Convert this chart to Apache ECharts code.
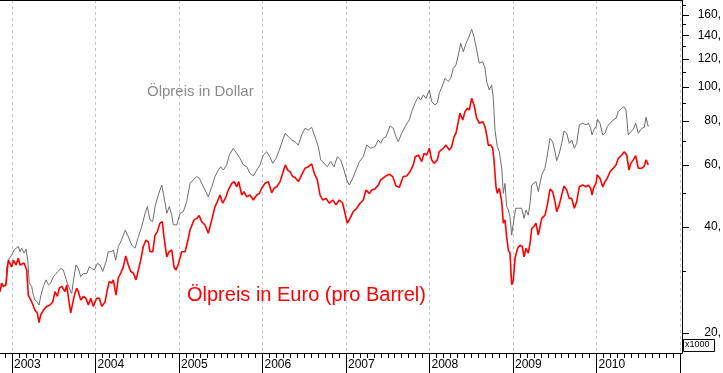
<!DOCTYPE html>
<html><head><meta charset="utf-8">
<script src="https://cdn.jsdelivr.net/npm/echarts@6/dist/echarts.min.js"></script>
<style>html,body{margin:0;padding:0;background:#fff}#c{width:723px;height:373px}</style>
</head><body><div id="c"></div>
<script>
// ---- data (decimal year, price per barrel) ----
const yearTicks = [2003, 2004, 2005, 2006, 2007, 2008, 2009, 2010, 2011];
const yearLabels = [2003, 2004, 2005, 2006, 2007, 2008, 2009, 2010];
const priceTicks = [20, 40, 60, 80, 100, 120, 140, 160];
const priceMinorTicks = [30, 50, 70, 90, 110, 130, 150, 170];

const dollarPoints = [
[2002.856,26.2],[2002.877,27.7],[2002.896,27.2],[2002.928,27.6],[2002.937,30.8],[2002.968,32.6],[2002.996,33.3],[2003.024,34.4],[2003.048,34.8],[2003.075,35.2],[2003.096,34.0],[2003.116,34.8],[2003.144,33.7],[2003.168,34.6],[2003.188,32.2],[2003.207,27.7],[2003.236,27.1],[2003.255,25.6],[2003.275,24.8],[2003.303,24.5],[2003.323,24.0],[2003.347,25.6],[2003.375,27.1],[2003.407,28.3],[2003.435,27.4],[2003.463,27.7],[2003.495,28.9],[2003.527,29.5],[2003.554,29.9],[2003.583,30.5],[2003.614,30.2],[2003.638,28.9],[2003.662,27.7],[2003.695,26.5],[2003.715,25.9],[2003.734,28.0],[2003.766,31.2],[2003.794,30.5],[2003.823,28.9],[2003.854,29.5],[2003.895,29.5],[2003.926,30.8],[2003.954,30.5],[2003.986,30.2],
[2004.022,31.5],[2004.054,31.2],[2004.086,29.9],[2004.126,31.9],[2004.153,34.0],[2004.186,34.0],[2004.213,34.4],[2004.242,32.2],[2004.273,35.2],[2004.302,36.3],[2004.333,37.9],[2004.357,39.2],[2004.393,37.5],[2004.434,35.5],[2004.473,34.8],[2004.513,37.5],[2004.553,40.1],[2004.593,43.7],[2004.620,45.7],[2004.653,41.9],[2004.685,41.4],[2004.713,45.7],[2004.752,49.3],[2004.793,52.6],[2004.820,48.7],[2004.853,43.7],[2004.884,45.7],[2004.913,43.2],[2004.932,40.6],[2004.972,40.5],
[2005.012,43.7],[2005.051,44.2],[2005.092,47.2],[2005.132,53.2],[2005.171,54.4],[2005.212,55.6],[2005.243,55.0],[2005.272,53.2],[2005.311,50.9],[2005.351,48.7],[2005.392,52.0],[2005.431,55.6],[2005.471,58.0],[2005.499,59.3],[2005.531,58.0],[2005.571,60.0],[2005.602,64.0],[2005.650,66.9],[2005.691,64.7],[2005.731,62.6],[2005.770,60.0],[2005.811,59.3],[2005.850,56.8],[2005.890,55.8],[2005.931,58.0],[2005.970,60.0],
[2006.010,64.0],[2006.050,65.4],[2006.090,63.1],[2006.122,60.6],[2006.162,62.6],[2006.201,66.1],[2006.242,70.6],[2006.273,73.8],[2006.309,72.1],[2006.350,70.6],[2006.389,69.8],[2006.429,68.3],[2006.469,73.0],[2006.509,76.2],[2006.549,75.4],[2006.589,76.7],[2006.629,72.1],[2006.668,67.6],[2006.697,62.0],[2006.737,60.6],[2006.776,59.3],[2006.817,61.3],[2006.856,59.3],[2006.896,63.3],[2006.936,62.0],[2006.976,58.0],
[2007.008,54.4],[2007.039,52.6],[2007.080,55.0],[2007.120,58.0],[2007.159,61.2],[2007.207,63.3],[2007.248,68.3],[2007.296,66.9],[2007.347,67.6],[2007.387,70.6],[2007.415,69.1],[2007.447,71.4],[2007.479,72.1],[2007.527,77.4],[2007.566,76.2],[2007.599,72.1],[2007.626,69.8],[2007.667,73.8],[2007.719,77.9],[2007.758,80.5],[2007.787,85.0],[2007.826,89.8],[2007.866,93.7],[2007.894,91.7],[2007.926,94.8],[2007.958,92.7],[2007.998,97.9],
[2008.026,90.7],[2008.066,88.8],[2008.093,90.1],[2008.117,95.8],[2008.158,101.2],[2008.186,105.7],[2008.225,103.4],[2008.254,105.7],[2008.285,112.8],[2008.317,115.3],[2008.345,123.1],[2008.374,132.8],[2008.405,125.7],[2008.437,132.8],[2008.465,137.3],[2008.505,145.6],[2008.533,138.7],[2008.565,127.2],[2008.596,116.6],[2008.637,117.8],[2008.665,112.8],[2008.685,103.4],[2008.716,97.9],[2008.745,101.2],[2008.764,92.7],[2008.784,75.4],[2008.812,67.6],[2008.836,65.4],[2008.865,58.7],[2008.884,49.8],[2008.904,53.2],[2008.924,45.7],[2008.944,44.7],[2008.964,42.8],[2008.984,37.9],
[2009.004,41.0],[2009.032,45.2],[2009.063,45.2],[2009.104,45.2],[2009.132,42.3],[2009.156,44.7],[2009.183,43.2],[2009.204,46.7],[2009.224,52.6],[2009.251,53.2],[2009.275,53.8],[2009.303,50.4],[2009.344,56.2],[2009.383,58.7],[2009.411,64.0],[2009.443,71.4],[2009.475,69.8],[2009.503,65.4],[2009.523,61.7],[2009.554,64.7],[2009.583,69.1],[2009.611,74.9],[2009.643,73.8],[2009.674,69.1],[2009.703,70.6],[2009.734,66.9],[2009.763,69.1],[2009.794,77.9],[2009.835,78.8],[2009.874,77.9],[2009.902,78.8],[2009.930,76.2],[2009.946,73.0],[2009.970,75.4],[2009.994,77.0],
[2010.014,80.8],[2010.042,78.8],[2010.074,73.0],[2010.102,73.8],[2010.129,77.0],[2010.162,78.8],[2010.201,80.5],[2010.234,81.4],[2010.261,85.0],[2010.302,86.9],[2010.329,87.8],[2010.353,85.9],[2010.381,73.0],[2010.410,74.5],[2010.441,75.7],[2010.469,78.8],[2010.501,73.8],[2010.541,76.2],[2010.572,76.7],[2010.593,81.9],[2010.620,77.0]
];

const euroPoints = [
[2002.856,26.2],[2002.877,27.7],[2002.896,27.1],[2002.928,27.4],[2002.944,30.2],[2002.956,32.2],[2002.996,30.8],[2003.016,32.2],[2003.048,31.2],[2003.075,32.6],[2003.096,31.2],[2003.116,30.8],[2003.144,31.6],[2003.176,30.2],[2003.195,25.6],[2003.216,25.4],[2003.236,24.5],[2003.255,24.3],[2003.275,23.2],[2003.303,22.8],[2003.323,21.4],[2003.344,22.5],[2003.375,23.2],[2003.416,23.8],[2003.455,24.0],[2003.487,24.5],[2003.515,26.2],[2003.543,25.4],[2003.566,26.8],[2003.595,27.1],[2003.614,27.4],[2003.635,26.2],[2003.655,27.4],[2003.683,24.5],[2003.703,22.8],[2003.727,24.3],[2003.754,26.0],[2003.775,26.8],[2003.794,26.2],[2003.823,24.8],[2003.854,25.4],[2003.886,25.1],[2003.914,24.0],[2003.943,25.1],[2003.974,23.8],[2003.994,24.5],
[2004.014,25.1],[2004.046,25.1],[2004.074,23.8],[2004.114,24.5],[2004.141,26.5],[2004.165,28.0],[2004.194,27.7],[2004.213,28.3],[2004.246,25.6],[2004.273,28.7],[2004.302,29.6],[2004.333,30.8],[2004.362,33.1],[2004.393,31.2],[2004.422,29.9],[2004.453,29.6],[2004.485,28.3],[2004.513,30.2],[2004.541,32.2],[2004.572,35.2],[2004.605,36.7],[2004.632,36.3],[2004.653,34.0],[2004.685,34.0],[2004.713,37.9],[2004.740,38.8],[2004.772,41.0],[2004.800,41.4],[2004.820,37.5],[2004.853,32.9],[2004.880,34.0],[2004.913,34.4],[2004.940,30.8],[2004.964,30.2],[2004.992,31.4],
[2005.032,34.0],[2005.072,34.0],[2005.099,36.0],[2005.132,39.2],[2005.180,41.9],[2005.212,42.3],[2005.240,43.1],[2005.272,41.4],[2005.311,40.5],[2005.351,38.4],[2005.392,41.9],[2005.431,45.7],[2005.459,47.2],[2005.491,49.3],[2005.523,46.7],[2005.563,48.7],[2005.590,50.9],[2005.631,53.2],[2005.662,53.8],[2005.691,52.0],[2005.715,53.8],[2005.751,49.3],[2005.778,50.4],[2005.811,48.7],[2005.850,49.3],[2005.890,47.7],[2005.931,49.3],[2005.962,49.8],[2005.990,51.5],
[2006.030,53.2],[2006.069,53.8],[2006.110,50.0],[2006.138,51.5],[2006.170,52.0],[2006.210,53.8],[2006.242,56.8],[2006.273,60.0],[2006.302,58.0],[2006.329,57.4],[2006.362,55.6],[2006.389,55.3],[2006.429,53.8],[2006.469,56.2],[2006.509,58.7],[2006.549,59.3],[2006.589,60.4],[2006.620,56.8],[2006.656,54.4],[2006.689,49.3],[2006.721,47.7],[2006.760,48.2],[2006.800,46.7],[2006.841,47.7],[2006.880,46.2],[2006.920,47.7],[2006.960,46.7],[2006.988,43.7],
[2007.016,41.0],[2007.048,42.3],[2007.087,44.2],[2007.128,45.2],[2007.168,46.7],[2007.207,47.7],[2007.240,50.9],[2007.279,49.8],[2007.308,50.9],[2007.347,51.3],[2007.387,52.6],[2007.415,54.4],[2007.467,55.6],[2007.518,56.5],[2007.559,55.6],[2007.599,52.3],[2007.638,51.8],[2007.686,55.6],[2007.727,55.8],[2007.766,57.4],[2007.806,60.0],[2007.829,63.3],[2007.868,64.0],[2007.907,61.3],[2007.934,64.7],[2007.966,64.0],[2007.998,66.9],
[2008.026,62.0],[2008.054,60.6],[2008.093,62.0],[2008.117,65.4],[2008.165,66.9],[2008.198,68.3],[2008.237,66.1],[2008.266,67.6],[2008.293,72.1],[2008.317,73.8],[2008.345,79.6],[2008.365,84.1],[2008.398,80.5],[2008.425,85.0],[2008.453,86.9],[2008.477,85.9],[2008.505,92.7],[2008.533,88.8],[2008.565,81.4],[2008.596,78.8],[2008.637,79.6],[2008.665,77.0],[2008.685,73.0],[2008.704,68.3],[2008.733,68.3],[2008.757,66.9],[2008.772,62.0],[2008.796,52.0],[2008.812,49.8],[2008.836,51.5],[2008.865,47.2],[2008.884,41.0],[2008.904,41.9],[2008.924,37.5],[2008.944,34.4],[2008.964,33.7],[2008.984,27.4],
[2009.004,28.3],[2009.024,32.6],[2009.056,34.8],[2009.084,35.5],[2009.111,35.2],[2009.132,32.9],[2009.156,34.8],[2009.183,33.7],[2009.204,35.9],[2009.224,39.6],[2009.251,40.1],[2009.275,41.0],[2009.303,37.9],[2009.344,42.3],[2009.383,43.2],[2009.411,46.2],[2009.443,51.2],[2009.475,50.4],[2009.503,47.2],[2009.523,44.2],[2009.554,46.2],[2009.583,49.3],[2009.611,52.3],[2009.643,50.9],[2009.674,48.2],[2009.703,48.2],[2009.734,45.2],[2009.763,47.2],[2009.794,52.0],[2009.835,52.6],[2009.874,52.0],[2009.902,52.6],[2009.930,51.5],[2009.946,49.3],[2009.970,52.0],[2009.994,53.2],
[2010.010,56.2],[2010.042,55.0],[2010.074,52.0],[2010.102,53.8],[2010.129,55.0],[2010.162,57.4],[2010.201,58.7],[2010.234,60.0],[2010.261,62.6],[2010.302,64.0],[2010.333,65.4],[2010.362,64.0],[2010.389,58.0],[2010.410,60.6],[2010.441,62.0],[2010.469,63.7],[2010.501,58.7],[2010.541,58.7],[2010.569,59.3],[2010.593,62.0],[2010.620,60.0]
];

// ---- chart ----
const X_MIN = 2002.856, X_MAX = 2011.024;
const Y_MIN = 2.8650, Y_MAX = 5.1722; // natural log of price
const FONT = '"Liberation Sans", Arial, sans-serif';
const monthTicks = [];
for (let y = 2002; y <= 2011; y++) {
  for (let m = 0; m < 12; m++) {
    const v = y + m / 12;
    if (v >= X_MIN && v <= X_MAX) monthTicks.push(v);
  }
}
const logPts = pts => pts.map(p => [p[0], Math.log(p[1])]);

const chart = echarts.init(document.getElementById('c'), null, {renderer: 'canvas'});
chart.setOption({
  animation: false,
  backgroundColor: '#ffffff',
  grid: {left: 0, right: 41, top: 0, bottom: 20, containLabel: false, outerBoundsMode: 'none'},
  xAxis: [
    {type: 'value', min: X_MIN, max: X_MAX, position: 'bottom',
     axisLine: {show: true, onZero: false, lineStyle: {color: '#000', width: 1}},
     axisTick: {show: true, customValues: monthTicks, length: 5, inside: false, lineStyle: {color: '#000', width: 1}},
     axisLabel: {show: false}, splitLine: {show: false}},
    {type: 'value', min: X_MIN, max: X_MAX, position: 'bottom',
     axisLine: {show: false, onZero: false},
     axisTick: {show: true, customValues: yearTicks, length: 20, inside: false, lineStyle: {color: '#000', width: 1}},
     axisLabel: {show: true, customValues: yearLabels, formatter: v => String(Math.round(v)),
                 align: 'left', padding: [0, 0, 0, 2], margin: 6, color: '#000', fontSize: 12, fontFamily: FONT},
     splitLine: {show: true, lineStyle: {color: '#c4c4c4', width: 1, type: [3, 3]}}},
    {type: 'value', min: X_MIN, max: X_MAX, position: 'top',
     axisLine: {show: true, onZero: false, lineStyle: {color: '#000', width: 1}},
     axisTick: {show: false}, axisLabel: {show: false}, splitLine: {show: false}}
  ],
  yAxis: [
    {type: 'value', min: Y_MIN, max: Y_MAX, position: 'right',
     axisLine: {show: true, onZero: false, lineStyle: {color: '#000', width: 1}},
     axisTick: {show: true, customValues: priceTicks.map(Math.log), length: 7, inside: false, lineStyle: {color: '#000', width: 1}},
     axisLabel: {show: true, customValues: priceTicks.map(Math.log), formatter: v => Math.round(Math.exp(v)) + ',',
                 align: 'right', margin: 39, color: '#000', fontSize: 12, fontFamily: FONT},
     splitLine: {show: false}},
    {type: 'value', min: Y_MIN, max: Y_MAX, position: 'right',
     axisLine: {show: false, onZero: false},
     axisTick: {show: true, customValues: priceMinorTicks.map(Math.log), length: 4, inside: false, lineStyle: {color: '#000', width: 1}},
     axisLabel: {show: false}, splitLine: {show: false}}
  ],
  series: [
    {name: 'Ölpreis in Dollar', type: 'line', xAxisIndex: 0, yAxisIndex: 0, data: logPts(dollarPoints),
     showSymbol: false, symbol: 'none', silent: true, z: 2,
     lineStyle: {color: '#6e6e6e', width: 1}},
    {name: 'Ölpreis in Euro (pro Barrel)', type: 'line', xAxisIndex: 0, yAxisIndex: 0, data: logPts(euroPoints),
     showSymbol: false, symbol: 'none', silent: true, z: 3,
     lineStyle: {color: '#ff0000', width: 1.6}}
  ],
  graphic: [
    {type: 'text', left: 147, top: 84, z: 10,
     style: {text: 'Ölpreis in Dollar', fill: '#8a8a8a', font: '15px ' + FONT}},
    {type: 'text', left: 187, top: 285, z: 10,
     style: {text: 'Ölpreis in Euro (pro Barrel)', fill: '#ff0000', font: '20px ' + FONT}},
    {type: 'rect', shape: {x: 683.5, y: 339.5, width: 31, height: 12}, z: 10,
     style: {fill: '#fff', stroke: '#000', lineWidth: 1}},
    {type: 'text', left: 685, top: 340, z: 11,
     style: {text: 'x1000', fill: '#000', font: '9px ' + FONT}}
  ]
});
</script>
</body></html>
